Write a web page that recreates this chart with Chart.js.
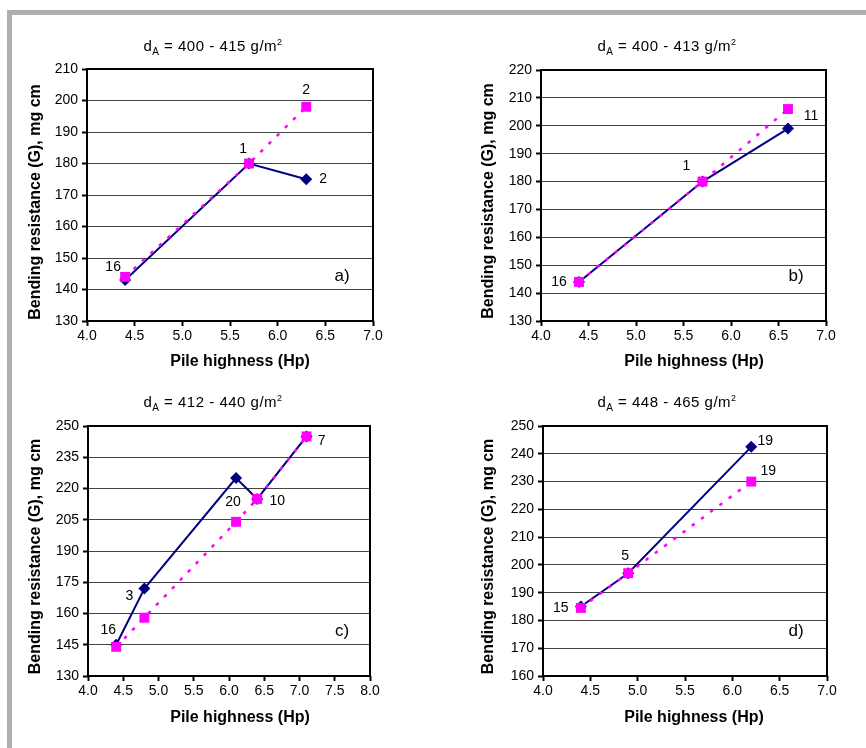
<!DOCTYPE html>
<html>
<head>
<meta charset="utf-8">
<script src="https://cdn.jsdelivr.net/npm/chart.js@4.4.1/dist/chart.umd.min.js"></script>
<style>
  html, body { margin: 0; padding: 0; background: #fff; }
  #page { position: relative; width: 866px; height: 748px; overflow: hidden; background: #fff; }
  .frame { position: absolute; background: #aeaeae; }
  canvas { position: absolute; }
</style>
</head>
<body>
<div id="page">
  <div class="frame" style="left:7px;top:10px;width:859px;height:5px"></div>
  <div class="frame" style="left:7px;top:10px;width:5px;height:738px"></div>
  <canvas id="panelA" width="433" height="374" style="left:0;top:0"></canvas>
  <canvas id="panelB" width="433" height="374" style="left:433px;top:0"></canvas>
  <canvas id="panelC" width="433" height="374" style="left:0;top:374px"></canvas>
  <canvas id="panelD" width="433" height="374" style="left:433px;top:374px"></canvas>
</div>
<script>
// ---- Panel a): dA = 400 - 415 g/m2
const rangeA = [400, 415];
const hpA = [4.4, 5.7, 6.3];
const gNavyA = [143, 180, 175];
const gPinkA = [144, 180, 198];
const nNavyA = [null, null, 2];
const nPinkA = [16, 1, 2];

// ---- Panel b): dA = 400 - 413 g/m2
const rangeB = [400, 413];
const hpB = [4.4, 5.7, 6.6];
const gNavyB = [144, 180, 199];
const gPinkB = [144, 180, 206];
const nNavyB = [null, null, 11];
const nPinkB = [16, 1, null];

// ---- Panel c): dA = 412 - 440 g/m2
const rangeC = [412, 440];
const hpC = [4.4, 4.8, 6.1, 6.4, 7.1];
const gNavyC = [145, 172, 225, 215, 245];
const gPinkC = [144, 158, 204, 215, 245];
const nNavyC = [null, 3, 20, null, null];
const nPinkC = [16, null, null, 10, 7];

// ---- Panel d): dA = 448 - 465 g/m2
const rangeD = [448, 465];
const hpD = [4.4, 4.9, 6.2];
const gNavyD = [185, 197, 242.5];
const gPinkD = [184.5, 197, 230];
const nNavyD = [null, null, 19];
const nPinkD = [15, 5, 19];

// Axis ranges: [xMin, xMax, yMin, yMax, yStep]
const axesA = [4, 7, 130, 210, 10];
const axesB = [4, 7, 130, 220, 10];
const axesC = [4, 8, 130, 250, 15];
const axesD = [4, 7, 160, 250, 10];

const X_TITLE = 'Pile highness (Hp)';
const Y_TITLE = 'Bending resistance (G), mg cm';

const NAVY = '#000080';
const PINK = '#ff00ff';
const FONT = "'Liberation Sans', Arial, Helvetica, sans-serif";
const W = 433, H = 374;

Chart.defaults.font.family = FONT;
Chart.defaults.font.size = 14;
Chart.defaults.color = '#000';

function annotate(p) {
  return {
    id: 'annotate',
    beforeDatasetsDraw(chart) {
      const {ctx, chartArea: a} = chart;
      ctx.save();
      ctx.strokeStyle = '#000';
      ctx.lineWidth = 2;
      ctx.strokeRect(a.left, a.top, a.right - a.left, a.bottom - a.top);
      ctx.restore();
    },
    afterDraw(chart) {
      const ctx = chart.ctx;
      const xs = chart.scales.x, ys = chart.scales.y;
      ctx.save();
      ctx.fillStyle = '#000';

      // heading with subscript / superscript
      const parts = [
        {t: 'd', size: 15, dy: 0},
        {t: 'A', size: 10, dy: 4},
        {t: ' = ' + p.range[0] + ' - ' + p.range[1] + ' g/m', size: 15, dy: 0},
        {t: '2', size: 9, dy: -6}
      ];
      ctx.letterSpacing = '0.5px';
      let total = 0;
      parts.forEach(q => { ctx.font = q.size + 'px ' + FONT; q.w = ctx.measureText(q.t).width; total += q.w; });
      let cx = p.title.x - total / 2;
      ctx.textBaseline = 'alphabetic';
      ctx.textAlign = 'left';
      parts.forEach(q => { ctx.font = q.size + 'px ' + FONT; ctx.fillText(q.t, cx, p.title.y + q.dy); cx += q.w; });
      ctx.letterSpacing = '0px';

      // axis titles
      ctx.font = 'bold 16px ' + FONT;
      ctx.textAlign = 'center';
      ctx.fillText(X_TITLE, p.xTitle.x, p.xTitle.y);
      ctx.save();
      ctx.translate(p.yTitle.x, p.yTitle.y);
      ctx.rotate(-Math.PI / 2);
      ctx.textBaseline = 'middle';
      ctx.fillText(Y_TITLE, 0, 0);
      ctx.restore();

      // panel letter
      ctx.font = '17px ' + FONT;
      ctx.textBaseline = 'middle';
      ctx.fillText(p.letter.t, p.letter.x, p.letter.y);

      // sample counts beside the points
      ctx.font = '14px ' + FONT;
      const put = (hp, g, n, off) => {
        n.forEach((v, i) => {
          if (v === null || !off[i]) return;
          const px = xs.getPixelForValue(hp[i]);
          const py = ys.getPixelForValue(g[i]);
          ctx.fillText(String(v), px + off[i][0], py + off[i][1]);
        });
      };
      put(p.hp, p.navy, p.nNavy, p.offNavy);
      put(p.hp, p.pink, p.nPink, p.offPink);
      ctx.restore();
    }
  };
}

function makePanel(id, p) {
  const [xMin, xMax, yMin, yMax, yStep] = p.axes;
  new Chart(document.getElementById(id), {
    type: 'scatter',
    data: {
      datasets: [
        {
          data: p.hp.map((x, i) => ({x, y: p.pink[i]})),
          showLine: true,
          borderColor: PINK,
          borderWidth: 2.5,
          borderDash: [3.5, 8],
          pointStyle: 'rect',
          pointRadius: 7,
          pointBackgroundColor: PINK,
          pointBorderColor: PINK,
          pointBorderWidth: 0,
          order: 0
        },
        {
          data: p.hp.map((x, i) => ({x, y: p.navy[i]})),
          showLine: true,
          borderColor: NAVY,
          borderWidth: 2,
          pointStyle: 'rectRot',
          pointRadius: 6,
          pointBackgroundColor: NAVY,
          pointBorderColor: NAVY,
          pointBorderWidth: 0,
          order: 1
        }
      ]
    },
    options: {
      responsive: false,
      animation: false,
      devicePixelRatio: 1,
      clip: false,
      layout: {padding: {left: 0, top: p.box.top, right: W - p.box.right, bottom: 0}},
      plugins: {legend: {display: false}, tooltip: {enabled: false}, title: {display: false}},
      scales: {
        x: {
          type: 'linear', min: xMin, max: xMax,
          afterFit(s) { s.height = H - p.box.bottom; },
          ticks: {stepSize: 0.5, padding: 2, maxRotation: 0, autoSkip: false,
                  callback: v => Number(v).toFixed(1), font: {size: 14}},
          grid: {drawOnChartArea: false, drawTicks: true, tickLength: 5, tickColor: '#000', tickWidth: 2},
          border: {display: false}
        },
        y: {
          type: 'linear', min: yMin, max: yMax,
          afterFit(s) { s.width = p.box.left; },
          ticks: {stepSize: yStep, padding: 4, font: {size: 14}},
          grid: {color: '#444', lineWidth: 1, tickColor: '#000', tickWidth: 2, tickLength: 5},
          border: {display: false}
        }
      }
    },
    plugins: [annotate(p)]
  });
}

makePanel('panelA', {
  range: rangeA, hp: hpA, navy: gNavyA, pink: gPinkA, nNavy: nNavyA, nPink: nPinkA, axes: axesA,
  offNavy: [null, null, [17, 0]],
  offPink: [[-12, -10], [-6, -14], [0, -17]],
  box: {left: 87, top: 69, right: 373, bottom: 321},
  title: {x: 213, y: 51}, xTitle: {x: 240, y: 366}, yTitle: {x: 36, y: 202},
  letter: {t: 'a)', x: 342, y: 276}
});

makePanel('panelB', {
  range: rangeB, hp: hpB, navy: gNavyB, pink: gPinkB, nNavy: nNavyB, nPink: nPinkB, axes: axesB,
  offNavy: [null, null, [23, -12]],
  offPink: [[-20, 0], [-16, -15], null],
  box: {left: 108, top: 70, right: 393, bottom: 321},
  title: {x: 234, y: 51}, xTitle: {x: 261, y: 366}, yTitle: {x: 56, y: 201},
  letter: {t: 'b)', x: 363, y: 276}
});

makePanel('panelC', {
  range: rangeC, hp: hpC, navy: gNavyC, pink: gPinkC, nNavy: nNavyC, nPink: nPinkC, axes: axesC,
  offNavy: [null, [-15, 8], [-3, 24], null, null],
  offPink: [[-8, -17], null, null, [20, 2], [15, 5]],
  box: {left: 88, top: 52, right: 370, bottom: 302},
  title: {x: 213, y: 32.5}, xTitle: {x: 240, y: 348}, yTitle: {x: 36, y: 182.5},
  letter: {t: 'c)', x: 342, y: 257.5}
});

makePanel('panelD', {
  range: rangeD, hp: hpD, navy: gNavyD, pink: gPinkD, nNavy: nNavyD, nPink: nPinkD, axes: axesD,
  offNavy: [null, null, [14, -6]],
  offPink: [[-20, 0], [-3, -17], [17, -10]],
  box: {left: 110, top: 52, right: 394, bottom: 302},
  title: {x: 234, y: 32.5}, xTitle: {x: 261, y: 348}, yTitle: {x: 56, y: 182.5},
  letter: {t: 'd)', x: 363, y: 257}
});
</script>
</body>
</html>
